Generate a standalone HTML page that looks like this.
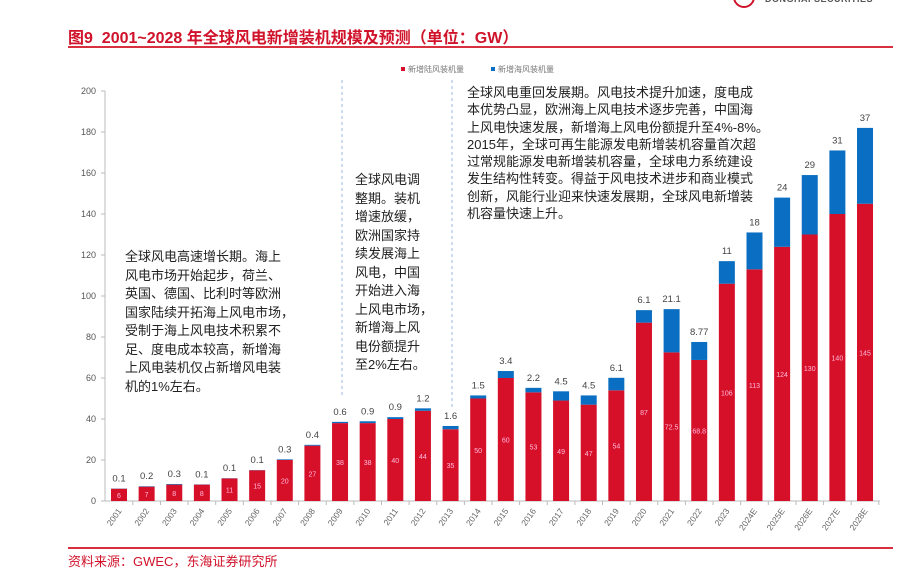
<!DOCTYPE html>
<html><head><meta charset="utf-8">
<style>
body{margin:0;width:913px;height:568px;background:#fff;overflow:hidden;position:relative;font-family:"Liberation Sans","Noto Sans CJK SC",sans-serif;}
.t{position:absolute;white-space:nowrap;}
.note{position:absolute;font-size:13px;line-height:18.5px;color:#222;font-family:"Liberation Sans","Noto Sans CJK SC",sans-serif;}
</style></head><body>
<div class="t" style="left:765px;top:-6px;font-size:9px;color:#555;font-weight:bold;letter-spacing:0.5px">DONGHAI SECURITIES</div>
<div class="t" style="left:733px;top:-14px;width:18px;height:18px;border:2px solid #d0122a;border-radius:50%"></div>
<div class="t" style="left:68px;top:24px;font-size:16px;font-weight:bold;color:#d0122a">图9&nbsp; 2001~2028 年全球风电新增装机规模及预测（单位：GW）</div>
<div class="t" style="left:68px;top:46px;width:825px;height:2px;background:#d9303f"></div>
<div class="t" style="left:68px;top:547px;width:825px;height:2px;background:#d9303f"></div>
<div class="t" style="left:68px;top:551px;font-size:13px;color:#d0122a">资料来源：GWEC，东海证券研究所</div>

<svg id="chart" width="913" height="568" style="position:absolute;left:0;top:0">
</svg>

<div class="note" style="left:125px;top:248px">全球风电高速增长期。海上<br>风电市场开始起步，荷兰、<br>英国、德国、比利时等欧洲<br>国家陆续开拓海上风电市场，<br>受制于海上风电技术积累不<br>足、度电成本较高，新增海<br>上风电装机仅占新增风电装<br>机的1%左右。</div>
<div class="note" style="left:355px;top:171px">全球风电调<br>整期。装机<br>增速放缓，<br>欧洲国家持<br>续发展海上<br>风电，中国<br>开始进入海<br>上风电市场，<br>新增海上风<br>电份额提升<br>至2%左右。</div>
<div class="note" style="left:467px;top:84px;line-height:17.3px">全球风电重回发展期。风电技术提升加速，度电成<br>本优势凸显，欧洲海上风电技术逐步完善，中国海<br>上风电快速发展，新增海上风电份额提升至4%-8%。<br>2015年，全球可再生能源发电新增装机容量首次超<br>过常规能源发电新增装机容量，全球电力系统建设<br>发生结构性转变。得益于风电技术进步和商业模式<br>创新，风能行业迎来快速发展期，全球风电新增装<br>机容量快速上升。</div>

<script>
const years=["2001","2002","2003","2004","2005","2006","2007","2008","2009","2010","2011","2012","2013","2014","2015","2016","2017","2018","2019","2020","2021","2022","2023","2024E","2025E","2026E","2027E","2028E"];
const onshore=[6,7,8,8,11,15,20,27,38,38,40,44,35,50,60,53,49,47,54,87,72.5,68.8,106,113,124,130,140,145];
const offshore=[0.1,0.2,0.3,0.1,0.1,0.1,0.3,0.4,0.6,0.9,0.9,1.2,1.6,1.5,3.4,2.2,4.5,4.5,6.1,6.1,21.1,8.77,11,18,24,29,31,37];
const yTicks=[0,20,40,60,80,100,120,140,160,180,200];
const NS="http://www.w3.org/2000/svg";
const svg=document.getElementById('chart');
const y0=501,yTop=91,yMax=200,x0=119,step=27.63,bw=16;
const Y=v=>y0-v/yMax*(y0-yTop);
const X=i=>x0+i*step;
function mk(tag,attrs,txt){const e=document.createElementNS(NS,tag);for(const k in attrs)e.setAttribute(k,attrs[k]);if(txt!==undefined)e.textContent=txt;svg.appendChild(e);return e;}
let e;
e=mk('line',{x1:105,y1:yTop,x2:105,y2:y0,stroke:'#bbb'});


e=mk('line',{x1:105,y1:y0,x2:880,y2:y0,stroke:'#bbb'});


yTicks.forEach(t=>{
 mk('line',{x1:101,y1:Y(t),x2:105,y2:Y(t),stroke:'#bbb'});
 e=mk('text',{x:96,y:Y(t)+3,'text-anchor':'end','font-size':9,fill:'#555','font-family':'Liberation Sans'},t);
 
 
});
[342,452].forEach(x=>{
 e=mk('line',{x1:x,y1:80,x2:x,y2:x<400?398:407,stroke:'#9bb8e0','stroke-dasharray':'3,3'});
 
 
});
years.forEach((yr,i)=>{
 const cx=X(i);
 mk('line',{x1:cx+step/2,y1:y0,x2:cx+step/2,y2:y0+4,stroke:'#bbb'});
 e=mk('rect',{x:cx-bw/2,y:Y(onshore[i]),width:bw,height:y0-Y(onshore[i]),fill:'#d7102a'});
 
 
 e=mk('rect',{x:cx-bw/2,y:Y(onshore[i]+offshore[i]),width:bw,height:Y(onshore[i])-Y(onshore[i]+offshore[i]),fill:'#0a6fc2'});
 
 
 e=mk('text',{x:cx,y:(Y(onshore[i])+y0)/2+3,'text-anchor':'middle','font-size':7,fill:'#fbd','font-family':'Liberation Sans'},onshore[i]);
 
 
 e=mk('text',{x:cx,y:Y(onshore[i]+offshore[i])-7,'text-anchor':'middle','font-size':9.5,fill:'#444','font-family':'Liberation Sans'},offshore[i]);
 
 
 e=mk('text',{x:cx+3,y:y0+10,'text-anchor':'end','font-size':8.5,fill:'#666','font-family':'Liberation Sans',transform:`rotate(-55 ${cx+3} ${y0+10})`},yr);
 
 
});
e=mk('rect',{x:401,y:67,width:4,height:4,fill:'#d7102a'});


e=mk('text',{x:408,y:72,'font-size':8,fill:'#777','font-family':'Liberation Sans, Noto Sans CJK SC'},'新增陆风装机量');


e=mk('rect',{x:491,y:67,width:4,height:4,fill:'#0a6fc2'});


e=mk('text',{x:498,y:72,'font-size':8,fill:'#777','font-family':'Liberation Sans, Noto Sans CJK SC'},'新增海风装机量');


</script>
</body></html>
